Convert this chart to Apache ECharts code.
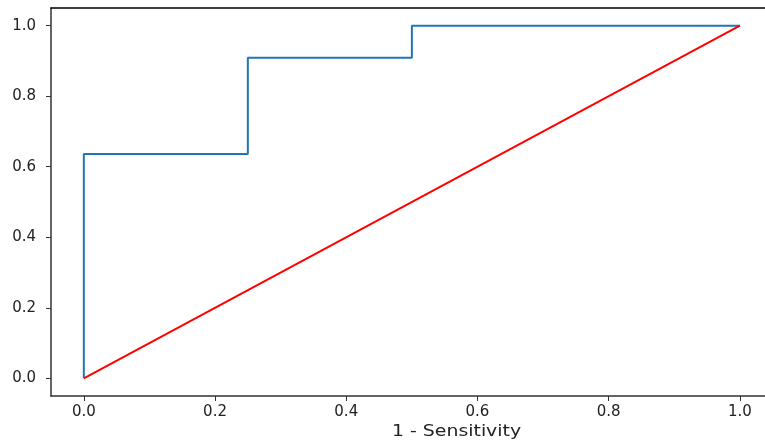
<!DOCTYPE html>
<html>
<head>
<meta charset="utf-8">
<script src="https://cdn.jsdelivr.net/npm/echarts@6/dist/echarts.min.js"></script>
<style>
  html, body { margin: 0; padding: 0; background: #fff; }
  #chart { width: 765px; height: 446px; }
</style>
</head>
<body>
<div id="chart"></div>
<script>
// ROC curve points
var fpr = [0, 0, 0.25, 0.25, 0.5, 0.5, 1];
var tpr = [0, 0.636, 0.636, 0.909, 0.909, 1, 1];
// chance line
var diagX = [0, 1];
var diagY = [0, 1];
var tickValues = [0, 0.2, 0.4, 0.6, 0.8, 1.0];

function pairs(xs, ys) {
  var out = [];
  for (var i = 0; i < xs.length; i++) out.push([xs[i], ys[i]]);
  return out;
}

var chart = echarts.init(document.getElementById('chart'));

var labelStyle = {
  color: '#222',
  fontFamily: 'DejaVu Sans',
  fontSize: 15,
  formatter: function (v) { return v.toFixed(1); }
};

var option = {
  animation: false,
  grid: { left: 51, top: 8, right: 0, bottom: 50 },
  xAxis: [{
    type: 'value',
    min: -0.05, max: 1.0382,
    splitLine: { show: false },
    axisLine: { show: true, onZero: false, lineStyle: { color: '#333', width: 1.5 } },
    axisTick: { show: true, length: 5, customValues: tickValues, lineStyle: { color: '#333' } },
    axisLabel: Object.assign({ customValues: tickValues, margin: 9 }, labelStyle)
  }, {
    // top spine only
    type: 'value', position: 'top',
    min: -0.05, max: 1.0382,
    splitLine: { show: false },
    axisLine: { show: true, onZero: false, lineStyle: { color: '#000', width: 1.5 } },
    axisTick: { show: false },
    axisLabel: { show: false }
  }],
  yAxis: {
    type: 'value',
    min: -0.05, max: 1.05,
    splitLine: { show: false },
    axisLine: { show: true, onZero: false, lineStyle: { color: '#333', width: 1.5 } },
    axisTick: { show: true, length: 5, customValues: tickValues, lineStyle: { color: '#333' } },
    axisLabel: Object.assign({ customValues: tickValues, margin: 15 }, labelStyle)
  },
  graphic: [{
    type: 'text',
    x: 392, y: 424, scaleX: 1.18,
    style: { text: '1 - Sensitivity', fill: '#222', font: '16px "DejaVu Sans"' }
  }],
  series: [
    {
      type: 'line',
      data: pairs(fpr, tpr),
      showSymbol: false,
      lineStyle: { color: '#1f77b4', width: 2 }
    },
    {
      type: 'line',
      data: pairs(diagX, diagY),
      showSymbol: false,
      lineStyle: { color: '#ff0000', width: 2 }
    }
  ]
};

chart.setOption(option);
</script>
</body>
</html>
